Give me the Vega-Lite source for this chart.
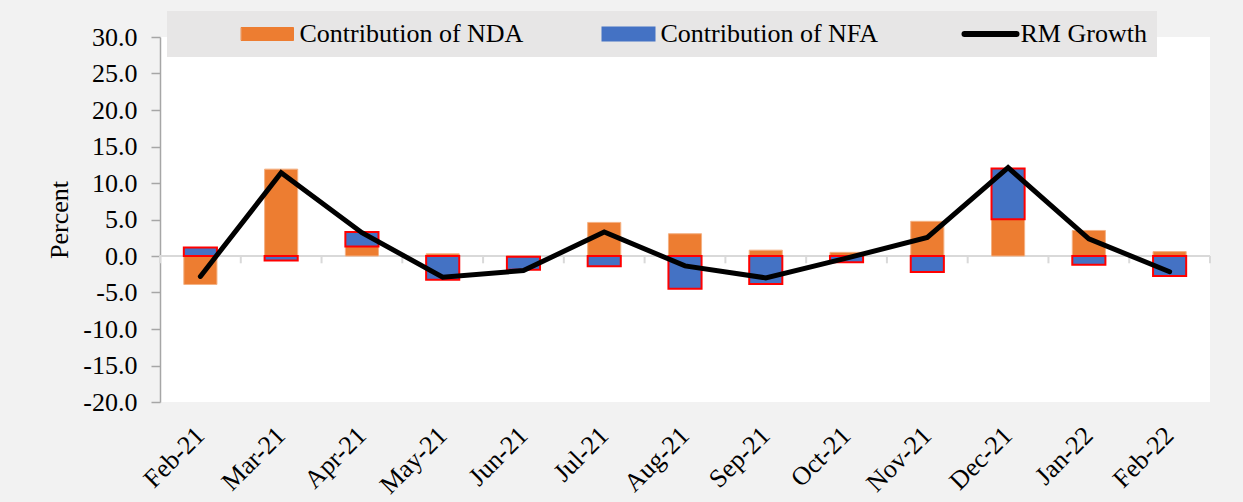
{
  "$schema": "https://vega.github.io/schema/vega-lite/v6.json",
  "width": 1050,
  "height": 365,
  "autosize": {"type": "none"},
  "padding": {"left": 160, "top": 37, "right": 33, "bottom": 100},
  "background": "#f2f2f2",
  "config": {
    "font": "Liberation Serif",
    "view": {"stroke": null, "fill": "#ffffff"},
    "axisX": {
      "title": null, "labelAngle": -45, "labelAlign": "right", "labelBaseline": "middle",
      "labelFontSize": 26, "labelColor": "#000000", "ticks": false, "tickSize": 0,
      "domain": false, "grid": false, "labelPadding": 29, "labelOverlap": false
    },
    "axisY": {
      "grid": false, "domainColor": "#a6a6a6", "domainWidth": 1.5, "tickColor": "#a6a6a6",
      "tickSize": 9, "tickWidth": 1.5, "labelFontSize": 26, "labelColor": "#000000",
      "labelPadding": 14, "titleFontSize": 26, "titleFontWeight": "normal",
      "titleColor": "#000000", "titlePadding": 10, "labelOverlap": false, "labelFlush": false
    }
  },
  "datasets": {
    "contrib": [
      {"month": "Feb-21", "series": "Contribution of NDA", "value": -3.9},
      {"month": "Feb-21", "series": "Contribution of NFA", "value": 1.15},
      {"month": "Mar-21", "series": "Contribution of NDA", "value": 11.9},
      {"month": "Mar-21", "series": "Contribution of NFA", "value": -0.6},
      {"month": "Apr-21", "series": "Contribution of NDA", "value": 1.3},
      {"month": "Apr-21", "series": "Contribution of NFA", "value": 2.0},
      {"month": "May-21", "series": "Contribution of NDA", "value": 0.3},
      {"month": "May-21", "series": "Contribution of NFA", "value": -3.25},
      {"month": "Jun-21", "series": "Contribution of NDA", "value": -0.1},
      {"month": "Jun-21", "series": "Contribution of NFA", "value": -1.8},
      {"month": "Jul-21", "series": "Contribution of NDA", "value": 4.6},
      {"month": "Jul-21", "series": "Contribution of NFA", "value": -1.4},
      {"month": "Aug-21", "series": "Contribution of NDA", "value": 3.05},
      {"month": "Aug-21", "series": "Contribution of NFA", "value": -4.5},
      {"month": "Sep-21", "series": "Contribution of NDA", "value": 0.8},
      {"month": "Sep-21", "series": "Contribution of NFA", "value": -3.85},
      {"month": "Oct-21", "series": "Contribution of NDA", "value": 0.5},
      {"month": "Oct-21", "series": "Contribution of NFA", "value": -0.85},
      {"month": "Nov-21", "series": "Contribution of NDA", "value": 4.75},
      {"month": "Nov-21", "series": "Contribution of NFA", "value": -2.2},
      {"month": "Dec-21", "series": "Contribution of NDA", "value": 5.05},
      {"month": "Dec-21", "series": "Contribution of NFA", "value": 6.95},
      {"month": "Jan-22", "series": "Contribution of NDA", "value": 3.5},
      {"month": "Jan-22", "series": "Contribution of NFA", "value": -1.2},
      {"month": "Feb-22", "series": "Contribution of NDA", "value": 0.6},
      {"month": "Feb-22", "series": "Contribution of NFA", "value": -2.75}
    ],
    "rm": [
      {"month": "Feb-21", "rm": -2.8},
      {"month": "Mar-21", "rm": 11.4},
      {"month": "Apr-21", "rm": 3.2},
      {"month": "May-21", "rm": -2.9},
      {"month": "Jun-21", "rm": -2.0},
      {"month": "Jul-21", "rm": 3.3},
      {"month": "Aug-21", "rm": -1.35},
      {"month": "Sep-21", "rm": -3.0},
      {"month": "Oct-21", "rm": -0.3},
      {"month": "Nov-21", "rm": 2.55},
      {"month": "Dec-21", "rm": 12.1},
      {"month": "Jan-22", "rm": 2.35},
      {"month": "Feb-22", "rm": -2.15}
    ],
    "one": [{}]
  },
  "layer": [
    {
      "data": {"name": "one"},
      "mark": {"type": "rule", "color": "#d9d9d9", "strokeWidth": 2},
      "encoding": {
        "y": {"datum": 0, "type": "quantitative", "title": "Percent", "scale": {"domain": [-20, 30], "nice": false},
              "axis": {"values": [-20,-15,-10,-5,0,5,10,15,20,25,30], "format": ".1f", "labelOverlap": false, "labelExpr": "replace(datum.label, '\u2212', '-')"}}
      }
    },
    {
      "data": {"name": "rm"},
      "mark": {"type": "rule", "color": "#d9d9d9", "strokeWidth": 2},
      "encoding": {
        "x": {"field": "month", "type": "nominal", "bandPosition": 0, "title": null,
              "scale": {"type": "band", "paddingInner": 0, "paddingOuter": 0,
                        "domain": ["Feb-21","Mar-21","Apr-21","May-21","Jun-21","Jul-21","Aug-21","Sep-21","Oct-21","Nov-21","Dec-21","Jan-22","Feb-22"]}},
        "y": {"datum": 0, "type": "quantitative", "title": "Percent",
              "axis": {"values": [-20,-15,-10,-5,0,5,10,15,20,25,30], "format": ".1f", "labelOverlap": false, "labelExpr": "replace(datum.label, '\u2212', '-')"}},
        "y2": {"datum": -1}
      }
    },
    {
      "data": {"name": "rm"},
      "transform": [{"filter": "datum.month == 'Feb-22'"}],
      "mark": {"type": "rule", "color": "#d9d9d9", "strokeWidth": 2},
      "encoding": {
        "x": {"field": "month", "type": "nominal", "bandPosition": 1, "title": null},
        "y": {"datum": 0, "type": "quantitative", "title": "Percent",
              "axis": {"values": [-20,-15,-10,-5,0,5,10,15,20,25,30], "format": ".1f", "labelOverlap": false, "labelExpr": "replace(datum.label, '\u2212', '-')"}},
        "y2": {"datum": -1}
      }
    },
    {
      "data": {"name": "contrib"},
      "mark": {"type": "bar", "width": {"band": 0.41}},
      "encoding": {
        "x": {"field": "month", "type": "nominal", "title": null},
        "y": {"field": "value", "type": "quantitative", "stack": "zero", "title": "Percent",
              "axis": {"values": [-20,-15,-10,-5,0,5,10,15,20,25,30], "format": ".1f", "labelOverlap": false, "labelExpr": "replace(datum.label, '\u2212', '-')"}},
        "order": {"field": "series", "sort": "ascending"},
        "color": {
          "field": "series", "type": "nominal",
          "scale": {"domain": ["Contribution of NDA", "Contribution of NFA", "RM Growth"], "range": ["#ED7D31", "#4472C4", "#000000"]},
          "legend": {
            "orient": "none", "legendX": 7, "legendY": -26, "direction": "horizontal",
            "title": " ", "titleOrient": "left", "titleFontSize": 26, "titlePadding": 59,
            "fillColor": "#e7e6e6", "padding": 10, "labelFontSize": 26, "labelColor": "#000000",
            "labelLimit": 400,
            "symbolSize": 676, "symbolOffset": 18.5, "labelOffset": 19, "columnPadding": 73,
            "encoding": {
              "symbols": {
                "shape": {"value": {"expr": "datum.value === 'RM Growth' ? 'M-2,0H2' : 'M-2,-0.5H2V0.5H-2Z'"}},
                "fill": {"value": {"expr": "datum.value === 'Contribution of NDA' ? '#ED7D31' : datum.value === 'Contribution of NFA' ? '#4472C4' : 'transparent'"}},
                "stroke": {"value": {"expr": "datum.value === 'Contribution of NDA' ? '#F4B183' : datum.value === 'Contribution of NFA' ? '#FF0000' : '#000000'"}},
                "strokeWidth": {"value": {"expr": "datum.value === 'RM Growth' ? 6 : datum.value === 'Contribution of NFA' ? 2 : 1"}},
                "strokeCap": {"value": "round"},
                "opacity": {"value": 1},
                "fillOpacity": {"value": 1},
                "strokeOpacity": {"value": 1}
              },
              "labels": {
                "dx": {"value": {"expr": "datum.value === 'RM Growth' ? -2 : 0"}}
              }
            }
          }
        },
        "stroke": {"condition": {"test": "datum.series === 'Contribution of NFA'", "value": "#FF0000"}, "value": "#F4B183"},
        "strokeWidth": {"condition": {"test": "datum.series === 'Contribution of NFA'", "value": 2}, "value": 1}
      }
    },
    {
      "data": {"name": "rm"},
      "mark": {"type": "line", "strokeWidth": 5, "strokeCap": "round"},
      "encoding": {
        "x": {"field": "month", "type": "nominal", "title": null},
        "y": {"field": "rm", "type": "quantitative", "title": "Percent",
              "axis": {"values": [-20,-15,-10,-5,0,5,10,15,20,25,30], "format": ".1f", "labelOverlap": false, "labelExpr": "replace(datum.label, '\u2212', '-')"}},
        "color": {"datum": "RM Growth"}
      }
    }
  ]
}
